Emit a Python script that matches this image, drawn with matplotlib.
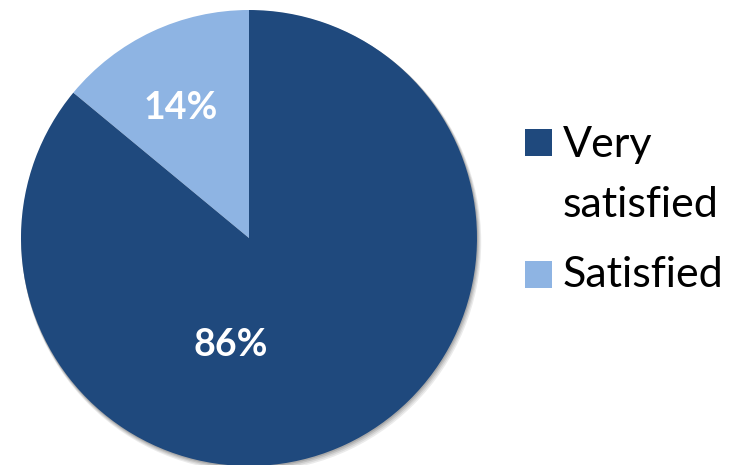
import matplotlib
matplotlib.use("Agg")
import matplotlib.pyplot as plt
from matplotlib.patches import Circle, Rectangle
import numpy as np

categories = ["Very\nsatisfied", "Satisfied"]
values = [86, 14]
labels = ["86%", "14%"]
colors = ["#1F497D", "#8EB4E3"]

plt.rcParams['font.family'] = ['Lato', 'DejaVu Sans']

W, H = 745, 465
fig = plt.figure(figsize=(W / 100, H / 100), dpi=100)
fig.patch.set_facecolor("white")

R = 228
cx, cy = 249, 238
ax = fig.add_axes([(cx - R) / W, (H - cy - R) / H, 2 * R / W, 2 * R / H])

wedges, _ = ax.pie(values, colors=colors, startangle=90, counterclock=False,
                   radius=1.0, wedgeprops=dict(linewidth=0), frame=False)
ax.set_xlim(-1, 1)
ax.set_ylim(-1, 1)
ax.set_aspect("auto")
ax.axis("off")
for w in wedges:
    w.set_zorder(2)
    w.set_clip_on(False)

# soft shadow
for i, a in enumerate([0.08, 0.08, 0.10, 0.12]):
    off = (4 - i) / R
    ax.add_patch(Circle((off * 0.6, -off), 1.0 + (4 - i) * 0.002, color="black",
                        alpha=a, lw=0, zorder=0, clip_on=False))

# data labels
label_pos = [(-0.08, -0.47), (-0.30, 0.57)]
for (x, y), t in zip(label_pos, labels):
    ax.text(x, y, t, ha="center", va="center", color="white",
            fontsize=27, fontweight="bold", zorder=3)

# legend drawn manually
sq = 27
entries = [(129, [157, 217]), (261, [287])]
for (top, bases), c, cat in zip(entries, colors, categories):
    fig.patches.append(Rectangle((525 / W, (H - top - sq) / H), sq / W, sq / H,
                                 transform=fig.transFigure, color=c, lw=0))
    for base, line in zip(bases, cat.split("\n")):
        fig.text(563 / W, (H - base) / H, line, ha="left", va="baseline",
                 fontsize=31, color="black")

fig.savefig("out.png", dpi=100)
